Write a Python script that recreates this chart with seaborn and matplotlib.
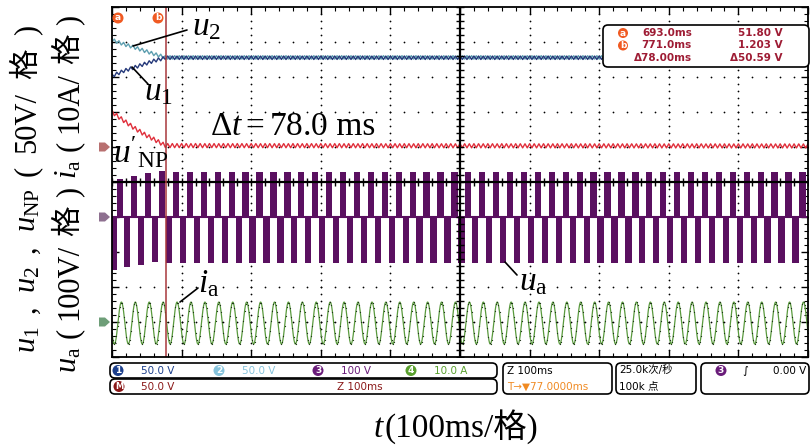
import numpy as np
import pandas as pd
import seaborn as sns
import matplotlib
matplotlib.use("Agg")
import matplotlib.pyplot as plt
from matplotlib.patches import FancyBboxPatch, Polygon, Circle
from matplotlib.lines import Line2D
from matplotlib.transforms import IdentityTransform
from matplotlib.ticker import MultipleLocator

sns.set_theme(style="white")
plt.rcParams['font.family'] = ['DejaVu Sans', 'Noto Sans CJK SC']
plt.rcParams['mathtext.fontset'] = 'custom'
plt.rcParams['mathtext.rm'] = 'Liberation Serif'
plt.rcParams['mathtext.it'] = 'Liberation Serif:italic'
plt.rcParams['mathtext.bf'] = 'Liberation Serif:bold'
SERIF = ['Liberation Serif', 'Noto Sans CJK SC']
SANS = ['DejaVu Sans', 'Noto Sans CJK SC']

# ---------------------------------------------------------------------------
# data: time in ms (100 ms/div), level in divisions
# ---------------------------------------------------------------------------
env_t = [0, 15, 30, 45, 60, 77, 1000]
u1_env = [3.03, 3.16, 3.26, 3.36, 3.46, 3.55, 3.55]
u2_env = [4.06, 3.95, 3.86, 3.76, 3.66, 3.56, 3.56]
unp_env = [2.00, 1.78, 1.57, 1.38, 1.22, 1.04, 1.03]
ripple_hz = 150
u12_ripple = 0.05
unp_ripple = 0.06

ia_hz = 50
ia_amp = 0.60
ia_offset = -4.03
ia_peak_ms = 13.5

ua_zero = -1.0
ua_first_pos_ms = 12
ua_pos = [0.09, 0.17, 0.26, 0.31] + [0.29] * 46
ua_neg = [-2.51, -2.43, -2.37, -2.29] + [-2.31] * 46
ua_width_ms = 9.0

cursor_b_ms = 77

cursor_rows = [("a", "693.0ms", "51.80 V"), ("b", "771.0ms", "1.203 V"), ("", "\u039478.00ms", "\u039450.59 V")]

# ---------------------------------------------------------------------------
W, H = 812, 447
X0, X1, Y0, Y1 = 112, 808, 7, 357

fig = plt.figure(figsize=(W / 100, H / 100), dpi=100)
fig.patch.set_facecolor("white")
ax = fig.add_axes([X0 / W, (H - Y1) / H, (X1 - X0) / W, (Y1 - Y0) / H])
ax.set_xlim(0, 1000)
ax.set_ylim(-5, 5)
ax.set_facecolor("white")
for s in ax.spines.values():
    s.set_color("black")
    s.set_linewidth(1.3)
    s.set_zorder(5)
ax.xaxis.set_major_locator(MultipleLocator(100))
ax.xaxis.set_minor_locator(MultipleLocator(20))
ax.yaxis.set_major_locator(MultipleLocator(1))
ax.yaxis.set_minor_locator(MultipleLocator(0.2))
ax.tick_params(which="both", direction="in", top=True, right=True, bottom=True, left=True,
               labelbottom=False, labelleft=False, color="black")
ax.tick_params(which="major", length=5, width=1)
ax.tick_params(which="minor", length=3, width=0.8)

# dotted graticule
gx = np.arange(0, 1001, 20)
gy = np.arange(-5, 5.01, 0.2)
for yy in [-4, -3, -2, -1, 1, 2, 3, 4]:
    ax.scatter(gx, np.full_like(gx, yy, dtype=float), s=1.6, color="black", lw=0, zorder=1)
for xx in [100, 200, 300, 400, 600, 700, 800, 900]:
    ax.scatter(np.full_like(gy, xx), gy, s=1.6, color="black", lw=0, zorder=1)

# traces
t = np.arange(0, 1000.01, 0.2)
tri = 2 * np.abs(2 * ((t * ripple_hz / 1000) % 1) - 1) - 1
df = pd.DataFrame({
    "t": t,
    "u1": np.interp(t, env_t, u1_env) + u12_ripple * tri,
    "u2": np.interp(t, env_t, u2_env) - u12_ripple * tri,
    "unp": np.interp(t, env_t, unp_env) + unp_ripple * tri,
    "ia": ia_offset + ia_amp * np.cos(2 * np.pi * ia_hz * (t - ia_peak_ms) / 1000),
})
sns.lineplot(data=df, x="t", y="u2", ax=ax, color="#5e9fb0", lw=1.0, estimator=None, zorder=3)
sns.lineplot(data=df, x="t", y="u1", ax=ax, color="#25397a", lw=1.0, estimator=None, zorder=3)
sns.lineplot(data=df, x="t", y="unp", ax=ax, color="#e0303c", lw=1.0, estimator=None, zorder=3)
sns.lineplot(data=df, x="t", y="ia", ax=ax, color="#5a9a3e", lw=0.9, estimator=None, zorder=3)
dots = df.iloc[::8]
ax.scatter(dots["t"], dots["ia"], s=0.8, color="#20351a", lw=0, zorder=3.2)

pos_c = ua_first_pos_ms + 20 * np.arange(len(ua_pos))
neg_c = pos_c - 10
ax.bar(pos_c, np.array(ua_pos) - ua_zero, bottom=ua_zero, width=ua_width_ms,
       color="#5a1060", lw=0, zorder=2.5)
ax.bar(neg_c, np.array(ua_neg) - ua_zero, bottom=ua_zero, width=ua_width_ms,
       color="#5a1060", lw=0, zorder=2.5)
ax.axhline(ua_zero, color="#5a1060", lw=1.5, zorder=2.5)

# solid centre cross with ticks, drawn over the traces
ax.axhline(0, color="black", lw=1.6, zorder=3.6)
ax.axvline(500, color="black", lw=1.6, zorder=3.6)
ax.plot(gx, np.zeros_like(gx), ls="none", marker="|", ms=6, mew=1, color="black", zorder=3.6)
ax.plot(np.full_like(gy, 500), gy, ls="none", marker="_", ms=6, mew=1, color="black", zorder=3.6)

# cursor b
ax.axvline(cursor_b_ms, color="#a8383c", lw=1.1, zorder=4)


# ---------------------------------------------------------------------------
# helpers in image pixels (y downward)
def add(artist):
    artist.set_transform(IdentityTransform())
    fig.add_artist(artist)
    return artist


def rbox(x0, y0, x1, y1, r=4, lw=1.2):
    add(FancyBboxPatch((x0, H - y1), x1 - x0, y1 - y0,
                       boxstyle=f"round,pad=0,rounding_size={r}",
                       fc="white", ec="black", lw=lw, zorder=10))


def txt(x, y, s, size=7.5, color="black", ha="left", family=SANS, weight="normal", **kw):
    return fig.text(x / W, (H - y) / H, s, fontsize=size, color=color, ha=ha, va="center",
                    family=family, weight=weight, zorder=12, **kw)


def badge(x, y, label, color, r=5.5, size=6.5):
    add(Circle((x, H - y), r, fc=color, ec="none", zorder=11))
    txt(x, y, label, size=size, color="white", ha="center", weight="bold")


def line(x0, y0, x1, y1, lw=1.2, color="black"):
    add(Line2D([x0, x1], [H - y0, H - y1], color=color, lw=lw, zorder=12))


def rich(x, y, pieces, size, rotation=0, length=None):
    """Write text pieces one after another along the baseline; if length is
    given, spread the gaps so the whole run spans that many pixels."""
    r = fig.canvas.get_renderer()
    widths = []
    for s, fam in pieces:
        tt = fig.text(0, 0, s, fontsize=size, family=fam)
        widths.append(tt.get_window_extent(r).width)
        tt.remove()
    gap = 0.0
    if length is not None and len(pieces) > 1:
        gap = (length - sum(widths)) / (len(pieces) - 1)
    off = 0.0
    for (s, fam), w in zip(pieces, widths):
        tx, ty = (x, y - off) if rotation == 90 else (x + off, y)
        fig.text(tx / W, (H - ty) / H, s, fontsize=size, family=fam, rotation=rotation,
                 rotation_mode="anchor", ha="left", va="baseline", color="black", zorder=12)
        off += w + gap


# cursor markers a / b
badge(118, 18, "a", "#f05a22", r=5.5)
badge(158, 18, "b", "#f05a22", r=5.5)

# cursor readout
rbox(603, 25, 809, 67, r=5)
red = "#9e1c34"
for i, (tag, tm, vv) in enumerate(cursor_rows):
    yy = 33 + 12.5 * i
    if tag:
        badge(623, yy, tag, "#f05a22", r=5)
    txt(692, yy, tm, size=7.5, color=red, ha="right", weight="bold")
    txt(783, yy, vv, size=7.5, color=red, ha="right", weight="bold")

# ground markers on the left
for yy, col in [(147, "#b87070"), (217, "#8e7090"), (322, "#6e9e78")]:
    add(Polygon([(99, H - yy + 4.5), (105, H - yy + 4.5), (110, H - yy), (105, H - yy - 4.5),
                 (99, H - yy - 4.5)], closed=True, fc=col, ec="none", zorder=11))

# trace labels
rich(192, 35, [(r"$u_2$", SERIF)], 24)
line(133, 46, 187, 30)
rich(144, 100, [(r"$u_1$", SERIF)], 24)
line(132, 67, 148, 84)
rich(113, 163, [(r"$u'_{\rm NP}$", SERIF)], 24)
rich(210, 135, [(r"$\Delta t = 78.0$", SERIF), (" ms", SERIF)], 24)
rich(198, 292, [(r"$i_{\rm a}$", SERIF)], 24)
line(180, 302, 198, 288)
rich(519, 290, [(r"$u_{\rm a}$", SERIF)], 24)
line(505, 262, 517, 275)

# axis titles
rich(35, 353, [(r"$u_1$", SERIF), (",", SERIF), (r"$u_2$", SERIF), (",", SERIF),
               (r"$u_{\rm NP}$", SERIF), ("(", SERIF), ("50V/", SERIF), ("格", SERIF), (")", SERIF)],
     22, rotation=90, length=328)
rich(77, 373, [(r"$u_{\rm a}$", SERIF), ("(", SERIF), ("100V/", SERIF), ("格", SERIF), (")", SERIF),
               (r"$i_{\rm a}$", SERIF), ("(", SERIF), ("10A/", SERIF), ("格", SERIF), (")", SERIF)],
     22, rotation=90, length=358)
rich(373, 437, [(r"$t$", SERIF), ("(100ms/格)", SERIF)], 24)

# status bar
rbox(110, 363, 497, 378, r=5)
rbox(110, 379, 497, 394, r=5)
rbox(503, 363, 612, 394, r=5)
rbox(616, 363, 696, 394, r=5)
rbox(701, 363, 809, 394, r=5)
row1, row2 = 370.5, 386.5
for cx, lab, col, val in [(118, "1", "#1c3f8c", "50.0 V"), (219, "2", "#86c3dc", "50.0 V"),
                          (318, "3", "#6a1c7a", "100 V"), (411, "4", "#5aa02e", "10.0 A")]:
    badge(cx, row1, lab, col, r=5.5)
    txt(cx + 23, row1, val, color=col)
badge(119, row2, "M", "#8a1818", r=5.5, size=6)
txt(141, row2, "50.0 V", color="#8a1818")
txt(337, row2, "Z 100ms", color="#8a1818")
txt(507, row1, "Z 100ms")
txt(507, row2, "T\u2192\u25bc77.0000ms", color="#f08a22")
txt(619, row1, "25.0k次/秒")
txt(619, row2, "100k 点")
badge(721, row1, "3", "#6a1c7a", r=5.5)
txt(742, row1, "\u222b", size=8)
txt(806, row1, "0.00 V", ha="right")

fig.savefig("out.png", dpi=100, facecolor="white")
